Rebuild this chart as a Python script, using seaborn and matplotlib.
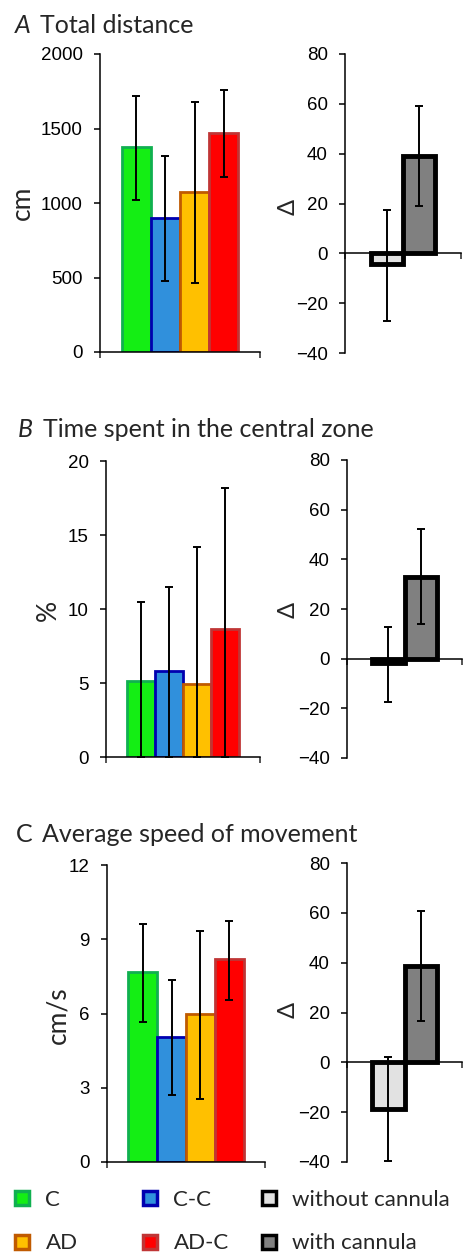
import numpy as np
import pandas as pd
import matplotlib
matplotlib.use("Agg")
import matplotlib.pyplot as plt
from matplotlib.lines import Line2D
import seaborn as sns

# group bars (left panels)
groups = ["C", "C-C", "AD", "AD-C"]
dist_mean = [1378, 897, 1076, 1472]
dist_low = [1020, 476, 461, 1177]
dist_high = [1720, 1317, 1680, 1756]
time_mean = [5.15, 5.8, 4.95, 8.65]
time_low = [0, 0, 0, 0]
time_high = [10.5, 11.5, 14.2, 18.2]
speed_mean = [7.69, 5.06, 5.97, 8.19]
speed_low = [5.67, 2.7, 2.55, 6.55]
speed_high = [9.6, 7.35, 9.35, 9.75]

# delta bars (right panels)
cannula = ["without cannula", "with cannula"]
dist_delta = [-4.3, 39]
dist_delta_low = [-27.2, 19]
dist_delta_high = [17.3, 59]
time_delta = [-1.8, 33]
time_delta_low = [-17.3, 13.9]
time_delta_high = [12.8, 52.2]
speed_delta = [-18.7, 38.7]
speed_delta_low = [-39.5, 16.7]
speed_delta_high = [2.25, 60.8]

group_fill = {"C": "#14ee14", "C-C": "#3090dc", "AD": "#ffc000", "AD-C": "#ff0000"}
group_edge = {"C": "#10b050", "C-C": "#0000b0", "AD": "#c05a00", "AD-C": "#c03535"}
cannula_fill = {"without cannula": "#e2e2e2", "with cannula": "#808080"}

sns.set_style("ticks")
plt.rcParams["font.family"] = ["Lato", "DejaVu Sans"]

W, H = 468, 1259
fig = plt.figure(figsize=(W / 100, H / 100), dpi=100)


def add_ax(box):
    l, r, t, b = box
    return fig.add_axes([l / W, 1 - b / H, (r - l) / W, (b - t) / H])


def style_axis(ax, box, ylim, yticks, ylabel, lab_xy, lab_size):
    ax.set_ylim(*ylim)
    ax.set_yticks(yticks)
    ax.set_xlim(-0.5, 0.5)
    ax.set_xticks([-0.5, 0.5])
    ax.set_xticklabels([])
    ax.set_xlabel("")
    sns.despine(ax=ax)
    for s in ["left", "bottom"]:
        ax.spines[s].set_linewidth(1.1)
        ax.spines[s].set_color("black")
    ax.tick_params(axis="y", length=4, width=1.1, pad=8.5, labelsize=13.5, colors="black")
    ax.tick_params(axis="x", length=4, width=1.1)
    for t in ax.get_yticklabels():
        t.set_fontfamily("Liberation Sans")
    l, r, t, b = box
    ax.set_ylabel(ylabel, fontsize=lab_size, va="center")
    ax.yaxis.set_label_coords((lab_xy[0] - l) / (r - l), (b - lab_xy[1]) / (b - t))


def group_panel(box, mean, low, high, ylim, yticks, ylabel, lab_xy):
    ax = add_ax(box)
    df = pd.DataFrame({"x": [""] * len(groups), "group": groups, "value": mean})
    sns.barplot(data=df, x="x", y="value", hue="group", hue_order=groups,
                palette=group_fill, saturation=1, width=0.73, linewidth=2,
                legend=False, ax=ax)
    for cont, g, m, lo, hi in zip(ax.containers, groups, mean, low, high):
        bar = cont[0]
        bar.set_edgecolor(group_edge[g])
        xc = bar.get_x() + bar.get_width() / 2
        ax.errorbar(xc, m, yerr=[[m - lo], [hi - m]], fmt="none", ecolor="black",
                    elinewidth=1.4, capsize=3, capthick=1.4, zorder=5)
    style_axis(ax, box, ylim, yticks, ylabel, lab_xy, 19)
    return ax


def delta_panel(box, mean, low, high, lab_xy):
    ax = add_ax(box)
    df = pd.DataFrame({"x": [""] * len(cannula), "cond": cannula, "value": mean})
    sns.barplot(data=df, x="x", y="value", hue="cond", hue_order=cannula,
                palette=cannula_fill, saturation=1, width=0.56, linewidth=3.5,
                edgecolor="black", legend=False, ax=ax)
    for cont, m, lo, hi in zip(ax.containers, mean, low, high):
        bar = cont[0]
        xc = bar.get_x() + bar.get_width() / 2
        ax.errorbar(xc, m, yerr=[[m - lo], [hi - m]], fmt="none", ecolor="black",
                    elinewidth=1.4, capsize=3, capthick=1.4, zorder=5)
    style_axis(ax, box, (-40, 80), np.arange(-40, 81, 20), "Δ", lab_xy, 17)
    ax.spines["bottom"].set_position(("data", 0))
    return ax


def title(x_letter, x_text, y, letter, text, italic=True):
    fig.text(x_letter / W, 1 - y / H, letter, fontsize=18, va="baseline",
             style="italic" if italic else "normal")
    fig.text(x_text / W, 1 - y / H, text, fontsize=18, va="baseline")


# A
title(15, 40, 33, "A", "Total distance")
group_panel((100, 260, 54, 352), dist_mean, dist_low, dist_high,
            (0, 2000), np.arange(0, 2001, 500), "cm", (22, 203))
delta_panel((345, 461, 54, 353), dist_delta, dist_delta_low, dist_delta_high, (288, 207))

# B
title(18, 43, 437, "B", "Time spent in the central zone")
group_panel((106, 260, 461, 757), time_mean, time_low, time_high,
            (0, 20), np.arange(0, 21, 5), "%", (48, 610))
delta_panel((347, 462, 460, 758), time_delta, time_delta_low, time_delta_high, (288, 610))

# C
title(16, 42, 842, "C", "Average speed of movement", italic=False)
group_panel((107, 265, 865, 1162), speed_mean, speed_low, speed_high,
            (0, 12), np.arange(0, 13, 3), "cm/s", (58, 1015))
delta_panel((347, 462, 863, 1162), speed_delta, speed_delta_low, speed_delta_high, (288, 1010))

# legend, three columns
def sq(fill, edge, ew):
    return Line2D([], [], marker="s", linestyle="none", markersize=10.5,
                  markerfacecolor=fill, markeredgecolor=edge, markeredgewidth=2.5)


leg_kw = dict(loc="upper left", frameon=False, fontsize=16, handlelength=1,
              handletextpad=0.55, borderpad=0, borderaxespad=0, labelspacing=1.05)
for x0, labs in [(11, ["C", "AD"]), (139, ["C-C", "AD-C"])]:
    hs = [sq(group_fill[g], group_edge[g], 2.5) for g in labs]
    fig.legend(hs, labs, bbox_to_anchor=(x0 / W, 1 - 1190 / H), **leg_kw)
hs = [sq(cannula_fill[c], "black", 3) for c in cannula]
fig.legend(hs, cannula, bbox_to_anchor=(258 / W, 1 - 1190 / H), **leg_kw)

fig.savefig("out.png", dpi=100)
